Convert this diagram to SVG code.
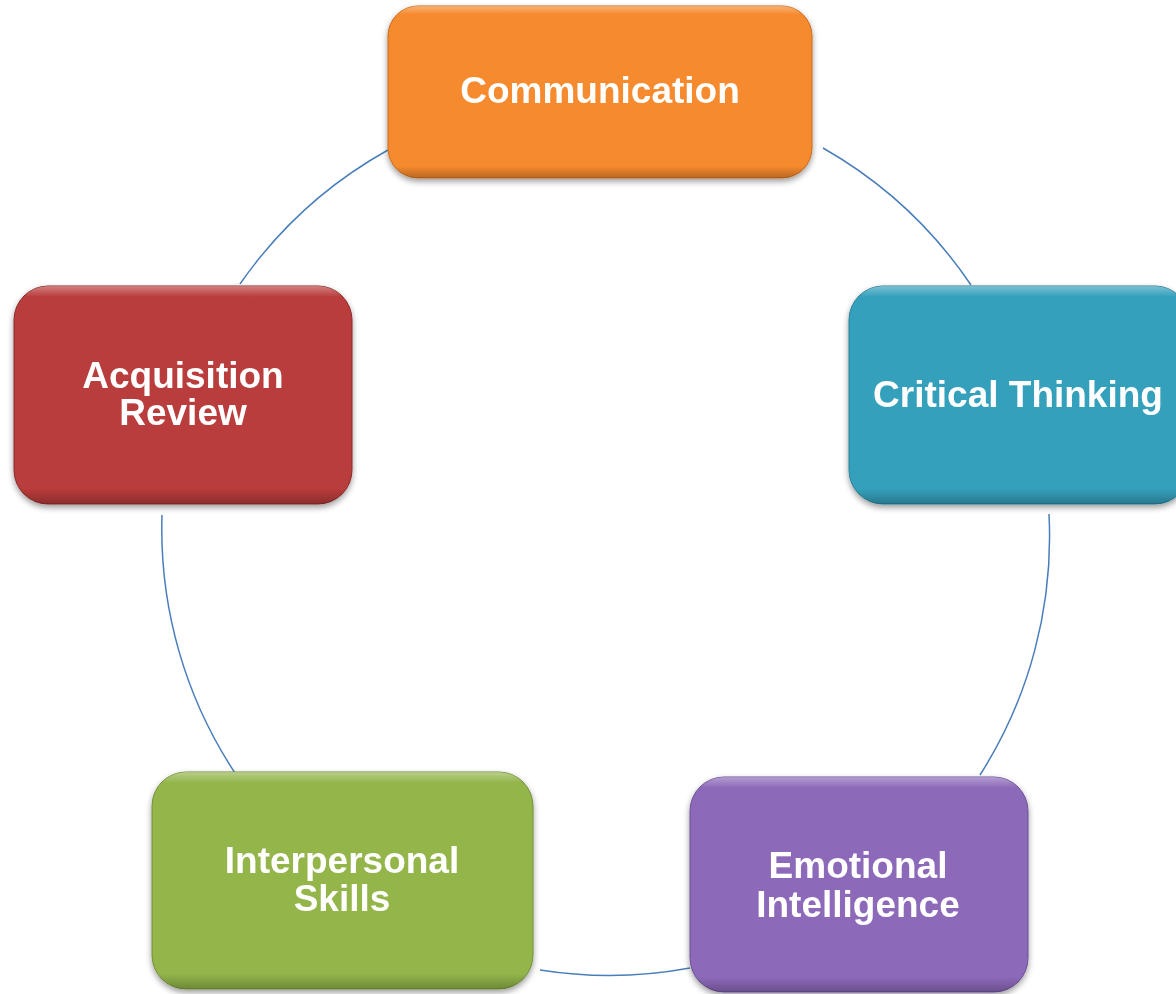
<svg xmlns="http://www.w3.org/2000/svg" width="1176" height="994" viewBox="0 0 1176 994">
<style>
.lbl{font-family:"Liberation Sans",Arial,sans-serif;font-weight:bold;font-size:37px;fill:#fff;text-anchor:middle}
.conn{fill:none;stroke:#4a7ebb;stroke-width:1.5}
.bevel{fill:url(#bev)}
</style>
<defs>
<linearGradient id="bev" x1="0" y1="0" x2="0" y2="1">
<stop offset="0" stop-color="#fff" stop-opacity="0.35"/>
<stop offset="0.05" stop-color="#fff" stop-opacity="0"/>
<stop offset="0.93" stop-color="#000" stop-opacity="0"/>
<stop offset="1" stop-color="#000" stop-opacity="0.25"/>
</linearGradient>
<filter id="sh" x="-10%" y="-10%" width="120%" height="125%">
<feGaussianBlur in="SourceAlpha" stdDeviation="3"/>
<feOffset dy="3" result="b"/>
<feComponentTransfer><feFuncA type="linear" slope="0.4"/></feComponentTransfer>
<feMerge><feMergeNode/><feMergeNode in="SourceGraphic"/></feMerge>
</filter>
</defs>
<rect width="1176" height="994" fill="#fff"/>
<g id="connectors">
<path class="conn" d="M 823 148 A 443 443 0 0 1 971 285"/>
<path class="conn" d="M 1049 514 A 443 443 0 0 1 980 775"/>
<path class="conn" d="M 690 968 A 443 443 0 0 1 540 970"/>
<path class="conn" d="M 237 776 A 443 443 0 0 1 162 515"/>
<path class="conn" d="M 240 284 A 443 443 0 0 1 388 150"/>
</g>
<g id="communication" filter="url(#sh)">
<rect x="388" y="6" width="424" height="172" rx="30" fill="#f68a2e" stroke="#c86a1c" stroke-width="1"/>
<rect class="bevel" x="388" y="6" width="424" height="172" rx="30"/>
<text class="lbl" x="600" y="103">Communication</text>
</g>
<g id="critical-thinking" filter="url(#sh)">
<rect x="849" y="286" width="340" height="218" rx="34" fill="#34a0bc" stroke="#2a7f96" stroke-width="1"/>
<rect class="bevel" x="849" y="286" width="340" height="218" rx="34"/>
<text class="lbl" x="1018" y="407">Critical Thinking</text>
</g>
<g id="emotional-intelligence" filter="url(#sh)">
<rect x="690" y="777" width="338" height="215" rx="34" fill="#8d69b9" stroke="#6d4f95" stroke-width="1"/>
<rect class="bevel" x="690" y="777" width="338" height="215" rx="34"/>
<text class="lbl" x="858" y="878">Emotional</text>
<text class="lbl" x="858" y="917">Intelligence</text>
</g>
<g id="interpersonal-skills" filter="url(#sh)">
<rect x="152" y="772" width="381" height="217" rx="34" fill="#93b54a" stroke="#73903a" stroke-width="1"/>
<rect class="bevel" x="152" y="772" width="381" height="217" rx="34"/>
<text class="lbl" x="342" y="873">Interpersonal</text>
<text class="lbl" x="342" y="911">Skills</text>
</g>
<g id="acquisition-review" filter="url(#sh)">
<rect x="14" y="286" width="338" height="218" rx="34" fill="#ba3c3c" stroke="#8e2a2a" stroke-width="1"/>
<rect class="bevel" x="14" y="286" width="338" height="218" rx="34"/>
<text class="lbl" x="183" y="388">Acquisition</text>
<text class="lbl" x="183" y="425">Review</text>
</g>
</svg>
